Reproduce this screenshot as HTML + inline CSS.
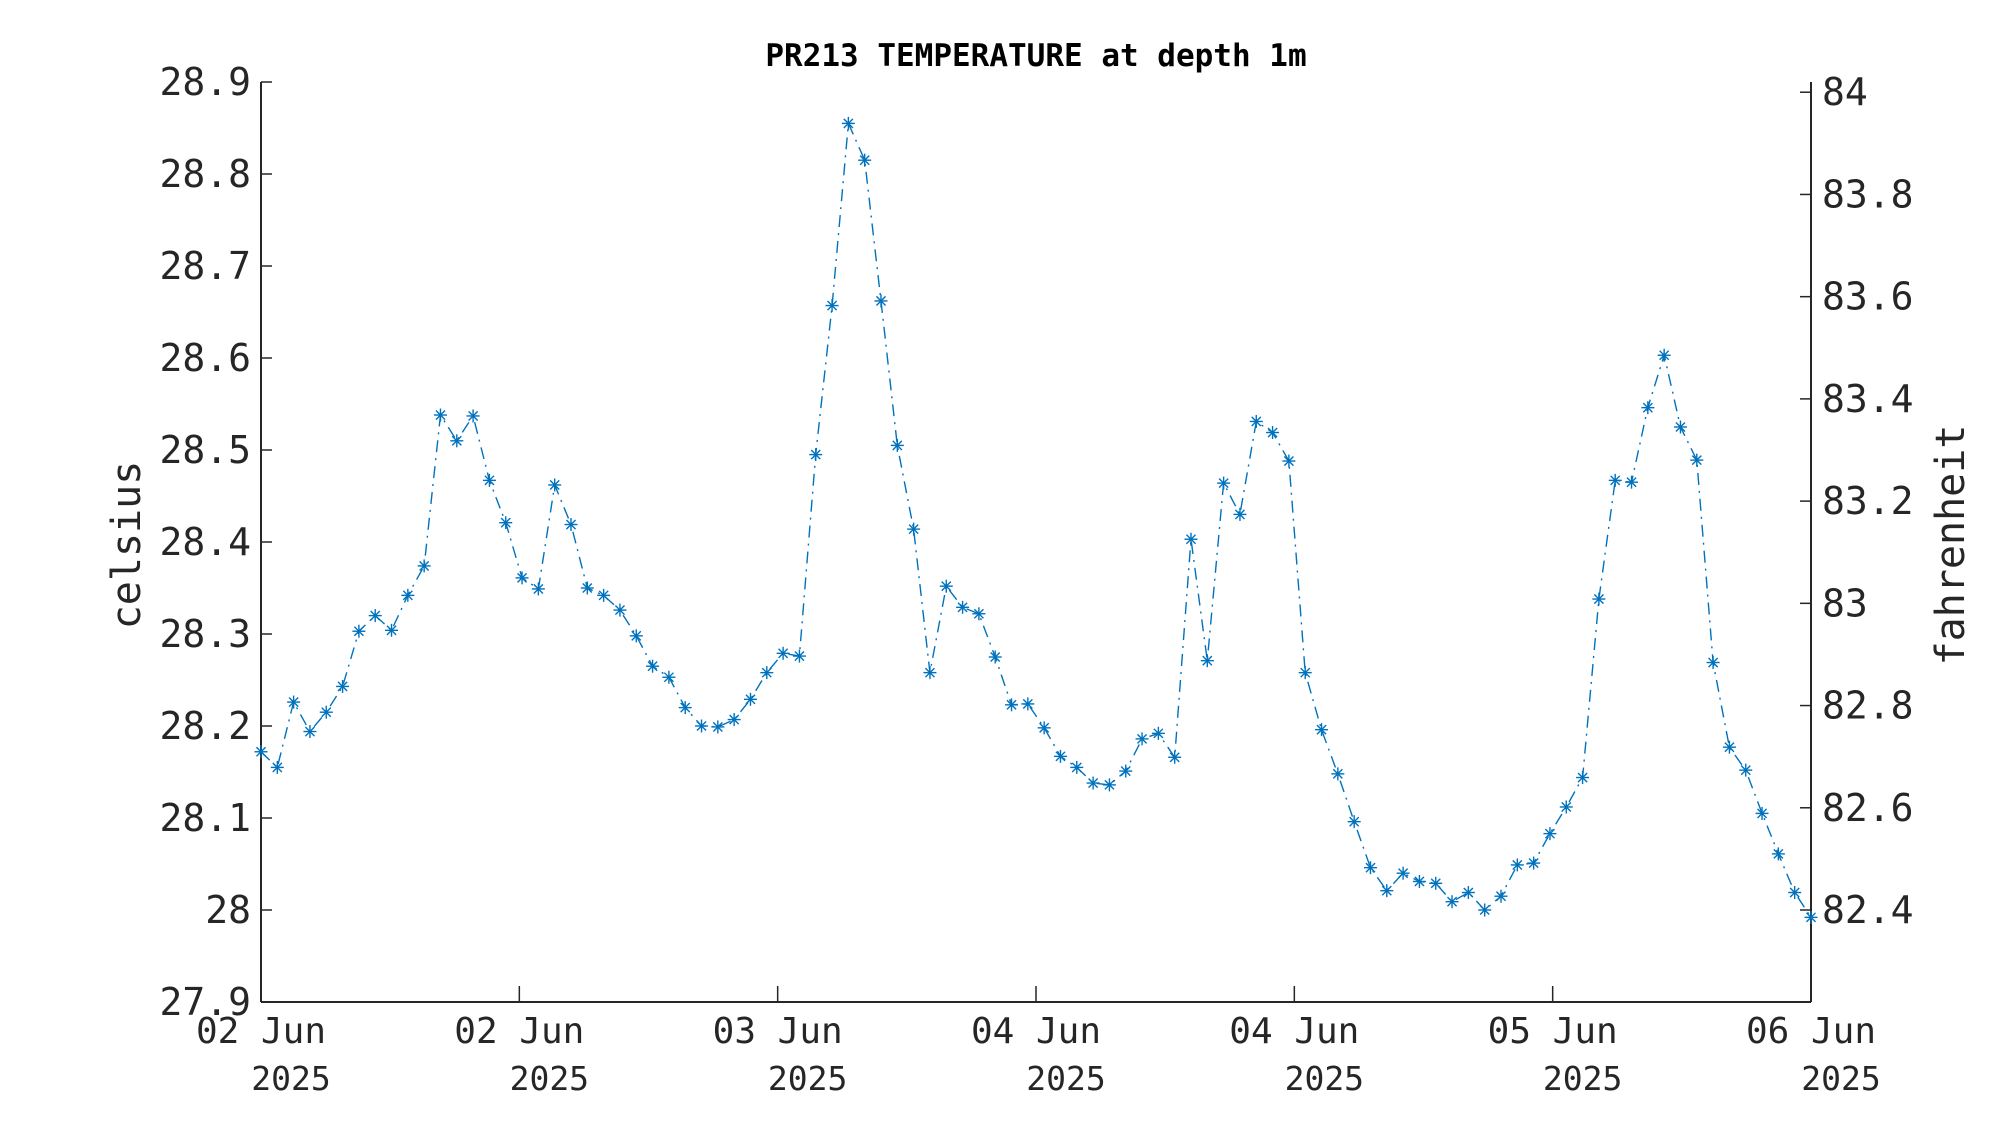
<!DOCTYPE html>
<html><head><meta charset="utf-8"><style>
html,body{margin:0;padding:0;background:#fff;}
svg{display:block;}
text{font-family:"DejaVu Sans Mono","Liberation Mono",monospace;fill:#262626;}
</style></head><body>
<svg id="chart" width="2000" height="1125" viewBox="0 0 2000 1125" xmlns="http://www.w3.org/2000/svg">
<rect width="2000" height="1125" fill="#fff"/>
<text x="1036" y="66" text-anchor="middle" font-size="31" font-weight="bold" style="fill:#000">PR213 TEMPERATURE at depth 1m</text>
<g id="axes"></g>
<g id="series"></g>
<text transform="translate(140,545) rotate(-90)" text-anchor="middle" font-size="40">celsius</text>
<text transform="translate(1964,545) rotate(-90)" text-anchor="middle" font-size="40">fahrenheit</text>
</svg>
<script>
const celsius = [28.172,28.155,28.226,28.194,28.215,28.243,28.303,28.320,28.304,28.342,28.374,28.538,28.510,28.537,28.467,28.421,28.361,28.349,28.462,28.419,28.350,28.342,28.326,28.298,28.265,28.253,28.220,28.200,28.199,28.207,28.229,28.258,28.279,28.276,28.495,28.657,28.855,28.815,28.662,28.505,28.414,28.258,28.352,28.329,28.322,28.275,28.223,28.224,28.198,28.167,28.155,28.138,28.136,28.151,28.186,28.192,28.166,28.403,28.271,28.464,28.430,28.531,28.519,28.488,28.258,28.196,28.148,28.096,28.046,28.021,28.040,28.031,28.029,28.009,28.019,28.000,28.015,28.049,28.051,28.083,28.112,28.144,28.338,28.467,28.465,28.546,28.603,28.525,28.489,28.269,28.177,28.152,28.105,28.061,28.019,27.992];
const yTicksC = [27.9,28,28.1,28.2,28.3,28.4,28.5,28.6,28.7,28.8,28.9];
const yTickLabelsC = ["27.9","28","28.1","28.2","28.3","28.4","28.5","28.6","28.7","28.8","28.9"];
const yTicksF = [82.4,82.6,82.8,83,83.2,83.4,83.6,83.8,84];
const yTickLabelsF = ["82.4","82.6","82.8","83","83.2","83.4","83.6","83.8","84"];
const xTickLabels = ["02 Jun","02 Jun","03 Jun","04 Jun","04 Jun","05 Jun","06 Jun"];
const xTickYear = ["2025","2025","2025","2025","2025","2025","2025"];

const L=261, R=1811, T=82, B=1002, yMin=27.9, yMax=28.9;
const NS='http://www.w3.org/2000/svg';
const xs = i => L + (R-L)*i/(celsius.length-1);
const ys = v => B - (v-yMin)/(yMax-yMin)*(B-T);
const ysF = f => ys((f-32)*5/9);
function mk(tag, attrs, parent){const e=document.createElementNS(NS,tag);for(const k in attrs)e.setAttribute(k,attrs[k]);parent.appendChild(e);return e;}
const ax=document.getElementById('axes'), se=document.getElementById('series');
const stroke='#262626';
let e;
e=mk('line',{x1:L,y1:B,x2:R,y2:B,stroke:stroke,'stroke-width':2},ax);


e=mk('line',{x1:L,y1:T,x2:L,y2:B,stroke:stroke,'stroke-width':2},ax);


e=mk('line',{x1:R,y1:T,x2:R,y2:B,stroke:stroke,'stroke-width':2},ax);


yTicksC.forEach((v,i)=>{
  const y=ys(v);
  mk('line',{x1:L,y1:y,x2:L+11,y2:y,stroke:stroke,'stroke-width':1.5},ax);
  const t=mk('text',{x:L-10,y:y+13,'text-anchor':'end','font-size':38},ax);
  t.textContent=yTickLabelsC[i];
  
  
});
yTicksF.forEach((v,i)=>{
  const y=ysF(v);
  mk('line',{x1:R-11,y1:y,x2:R,y2:y,stroke:stroke,'stroke-width':1.5},ax);
  const t=mk('text',{x:R+11,y:y+13,'text-anchor':'start','font-size':38},ax);
  t.textContent=yTickLabelsF[i];
  
  
});
xTickLabels.forEach((lab,i)=>{
  const x=L+(R-L)*i/(xTickLabels.length-1);
  mk('line',{x1:x,y1:B,x2:x,y2:B-16,stroke:stroke,'stroke-width':1.5},ax);
  const t=mk('text',{x:x,y:1043,'text-anchor':'middle','font-size':36},ax);
  t.textContent=lab;
  
  
  const t2=mk('text',{x:x+30,y:1090,'text-anchor':'middle','font-size':33},ax);
  t2.textContent=xTickYear[i];
  
  
});
const pts=celsius.map((v,i)=>xs(i).toFixed(1)+','+ys(v).toFixed(1)).join(' ');
const line=mk('polyline',{points:pts,fill:'none',stroke:'#0072BD','stroke-width':1.4,'stroke-dasharray':'12 6 2 6'},se);


celsius.forEach((v,i)=>{
  const x=xs(i), y=ys(v), r=6.5;
  const g=mk('g',{stroke:'#0072BD','stroke-width':1.4},se);
  
  
  mk('line',{x1:x-r,y1:y,x2:x+r,y2:y},g);
  mk('line',{x1:x,y1:y-r,x2:x,y2:y+r},g);
  mk('line',{x1:x-r*0.7,y1:y-r*0.7,x2:x+r*0.7,y2:y+r*0.7},g);
  mk('line',{x1:x-r*0.7,y1:y+r*0.7,x2:x+r*0.7,y2:y-r*0.7},g);
});
</script>
</body></html>
